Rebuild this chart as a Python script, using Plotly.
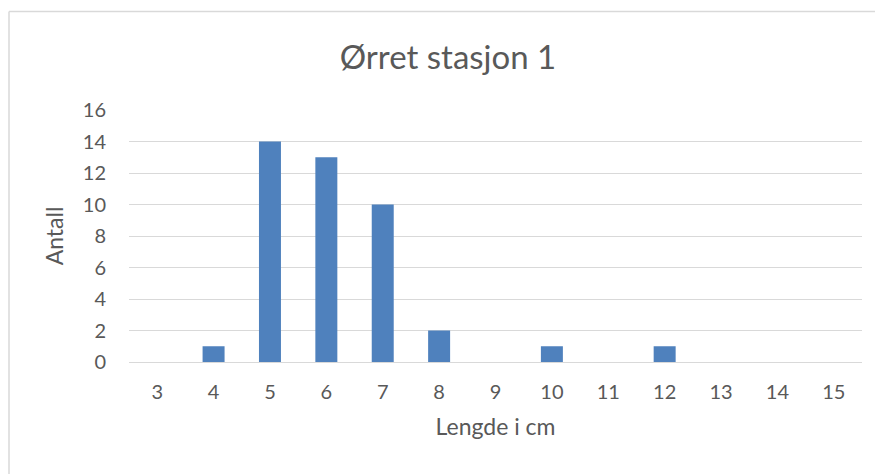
import plotly.graph_objects as go

lengths = ["3", "4", "5", "6", "7", "8", "9", "10", "11", "12", "13", "14", "15"]
counts = [0, 1, 14, 13, 10, 2, 0, 1, 0, 1, 0, 0, 0]
y_ticks = [0, 2, 4, 6, 8, 10, 12, 14, 16]

title_text = "Ørret stasjon 1"
x_title = "Lengde i cm"
y_title = "Antall"

FONT = "Lato"
GREY = "#595959"
GRID = "#d9d9d9"

fig = go.Figure(
    go.Bar(x=lengths, y=counts, marker=dict(color="#4f81bd", line=dict(width=0)))
)

# page has an 8px body margin, so the figure is 8px smaller than the window
W, H = 875, 466
L, R, T, B = 121, 21, 102, 112
fig.update_layout(
    width=W, height=H,
    margin=dict(l=L, r=R, t=T, b=B),
    paper_bgcolor="white", plot_bgcolor="white",
    bargap=0.61,
    showlegend=False,
    title=dict(text=title_text, x=440 / W, xanchor="center", y=1 - 49 / H, yanchor="middle",
               font=dict(family=FONT, size=33, color=GREY)),
    font=dict(family=FONT, color=GREY),
)
fig.update_xaxes(
    type="category", showgrid=False, showline=False, zeroline=False,
    tickfont=dict(family=FONT, size=20, color=GREY), ticks="", ticklabelstandoff=16,
    title=dict(text=x_title, font=dict(family=FONT, size=23, color=GREY), standoff=16),
)
fig.update_yaxes(
    range=[0, 16], tickvals=y_ticks, showgrid=True, gridcolor=GRID, gridwidth=1,
    zeroline=True, zerolinecolor=GRID, zerolinewidth=1, showline=False,
    tickfont=dict(family=FONT, size=20, color=GREY), ticks="", ticklabelstandoff=22,
    title=dict(text=y_title, font=dict(family=FONT, size=23, color=GREY), standoff=12),
)

# chart border (Excel chart area edge)
pw, ph = W - L - R, H - T - B
bx, by = 1, 3.5
fig.add_shape(type="line", xref="paper", yref="paper",
              x0=(bx - L) / pw, x1=(W - L) / pw,
              y0=(H - B - by) / ph, y1=(H - B - by) / ph,
              line=dict(color=GRID, width=1.5))
fig.add_shape(type="line", xref="paper", yref="paper",
              x0=(bx - L) / pw, x1=(bx - L) / pw,
              y0=(H - B - by) / ph, y1=-B / ph,
              line=dict(color=GRID, width=1.5))

fig.write_html("out.html")
